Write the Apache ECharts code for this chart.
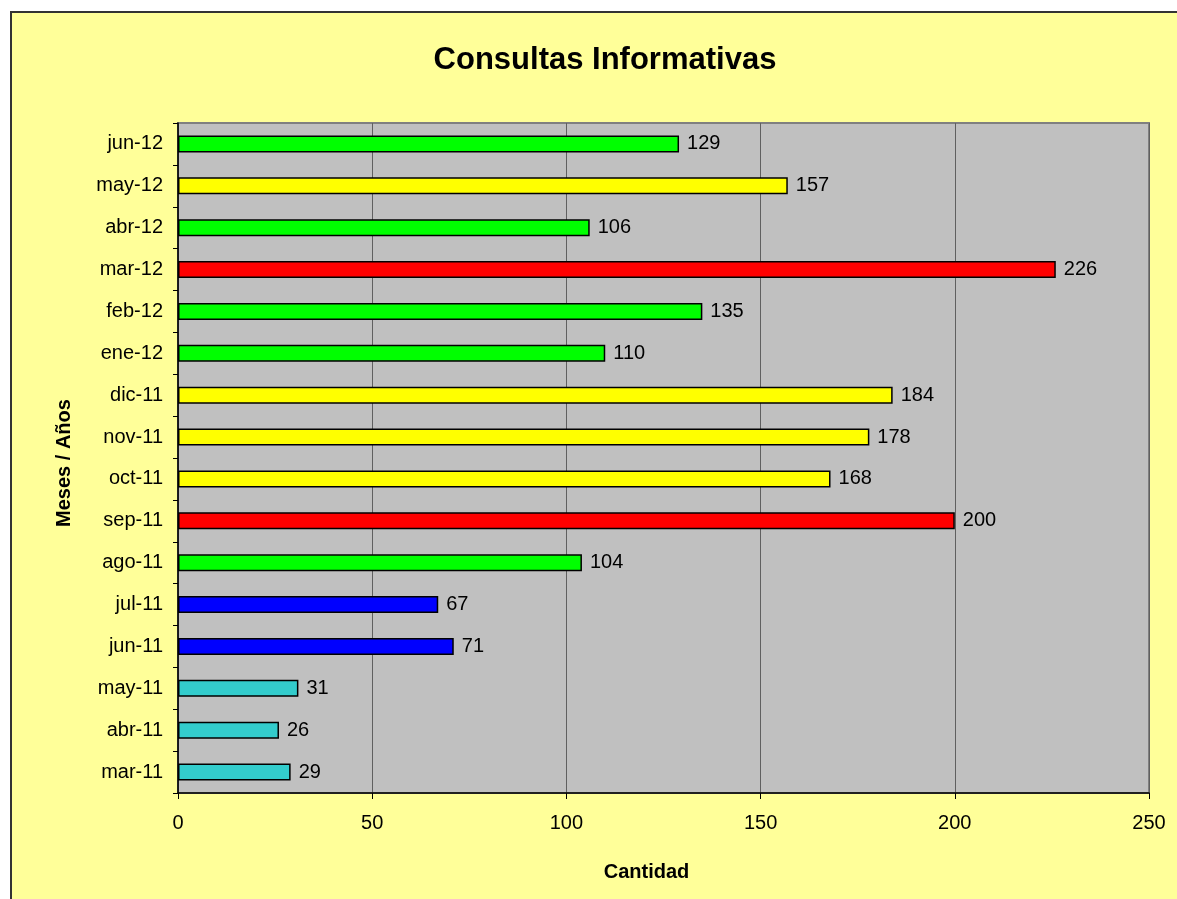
<!DOCTYPE html>
<html>
<head>
<meta charset="utf-8">
<script src="https://cdn.jsdelivr.net/npm/echarts@6/dist/echarts.min.js"></script>
<style>
  html, body { margin: 0; padding: 0; background: #fff; overflow: hidden; }
  .frame { position: absolute; left: 10px; top: 11px; width: 1200px; height: 920px;
           background: #FFFF99; border-left: 2px solid #333; border-top: 2px solid #333; }
  #chart { position: absolute; left: 0; top: 0; width: 1177px; height: 899px; }
</style>
</head>
<body>
<div class="frame"></div>
<div id="chart"></div>
<script>
// meses, de abajo hacia arriba
const months = ['mar-11', 'abr-11', 'may-11', 'jun-11', 'jul-11', 'ago-11', 'sep-11', 'oct-11',
  'nov-11', 'dic-11', 'ene-12', 'feb-12', 'mar-12', 'abr-12', 'may-12', 'jun-12']
const consultas = [29, 26, 31, 71, 67, 104, 200, 168, 178, 184, 110, 135, 226, 106, 157, 129]
const barColors = ['#33CCCC', '#33CCCC', '#33CCCC', '#0000FF', '#0000FF', '#00FF00', '#FF0000', '#FFFF00',
  '#FFFF00', '#FFFF00', '#00FF00', '#00FF00', '#FF0000', '#00FF00', '#FFFF00', '#00FF00']

const font = 'Liberation Sans, Arial, sans-serif'
const chart = echarts.init(document.getElementById('chart'))

chart.setOption({
  backgroundColor: 'transparent',
  animation: false,
  title: {
    text: 'Consultas Informativas',
    left: 600, top: 40, textAlign: 'center',
    textStyle: { fontFamily: font, fontSize: 31, fontWeight: 'bold', color: '#000' }
  },
  grid: {
    left: 178, right: 28, top: 123, bottom: 106,
    show: true, backgroundColor: '#C0C0C0', borderColor: '#808080', borderWidth: 2
  },
  xAxis: {
    type: 'value',
    min: 0, max: 250, interval: 50,
    name: 'Cantidad',
    nameLocation: 'middle', nameGap: 69,
    nameTextStyle: { fontFamily: font, fontSize: 20, fontWeight: 'bold', color: '#000', padding: [0, 34, 0, 0] },
    axisLine: { show: true, lineStyle: { color: '#000', width: 1.5 } },
    axisTick: { show: true, length: 6, lineStyle: { color: '#000' } },
    axisLabel: { fontFamily: font, fontSize: 20, color: '#000', margin: 20 },
    splitLine: { show: true, lineStyle: { color: '#606060', width: 1 } }
  },
  yAxis: {
    type: 'category',
    data: months,
    name: 'Meses / Años',
    nameLocation: 'middle', nameGap: 104, nameRotate: 90,
    nameTextStyle: { fontFamily: font, fontSize: 20, fontWeight: 'bold', color: '#000', padding: [0, 10, 0, 0] },
    axisLine: { show: true, lineStyle: { color: '#000', width: 1.5 } },
    axisTick: { show: true, length: 5, inside: false, lineStyle: { color: '#000' } },
    axisLabel: { fontFamily: font, fontSize: 20, color: '#000', margin: 15 },
    splitLine: { show: false }
  },
  series: [{
    type: 'bar',
    data: consultas.map((v, i) => ({ value: v, itemStyle: { color: barColors[i] } })),
    barWidth: 17,
    itemStyle: { borderColor: '#000', borderWidth: 1.5 },
    label: {
      show: true, position: 'right', distance: 8,
      fontFamily: font, fontSize: 20, color: '#000'
    }
  }]
})
</script>
</body>
</html>
